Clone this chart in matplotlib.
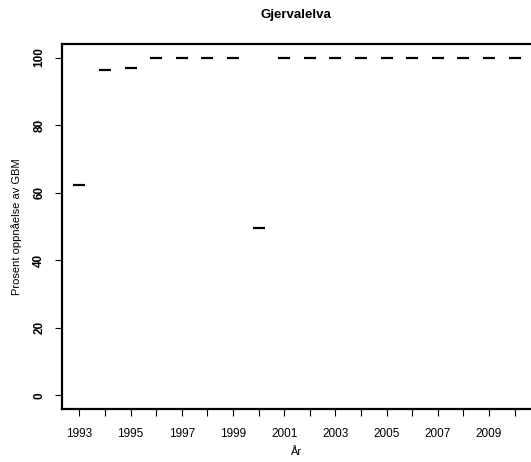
import matplotlib
matplotlib.use("Agg")
import matplotlib.pyplot as plt
from matplotlib.ticker import FixedLocator

plt.rcParams['font.family'] = ['Liberation Sans', 'DejaVu Sans']

years = list(range(1993, 2011))
values = [62.2, 96.4, 97.0, 100, 100, 100, 100, 49.6,
          100, 100, 100, 100, 100, 100, 100, 100, 100, 100]
label_years = list(range(1993, 2010, 2))
y_ticks = [0, 20, 40, 60, 80, 100]

# axes box in pixels of the 531x462 figure
left, right, top, bottom = 62, 532, 44, 409
W, H = 531, 462
aw, ah = right - left, bottom - top

fig = plt.figure(figsize=(W / 100, H / 100), dpi=100)
ax = fig.add_axes([left / W, 1 - bottom / H, aw / W, ah / H])

ax.plot(years, values, linestyle='none', marker='_', markersize=8,
        markeredgewidth=1.6, color='black')

ax.set_xlim(1992.32, 2010.68)
ax.set_ylim(-4, 104)

for side in ['left', 'top', 'bottom']:
    ax.spines[side].set_linewidth(1.6)
ax.spines['right'].set_visible(False)

ax.xaxis.set_major_locator(FixedLocator(years))
ax.set_xticklabels([str(y) if y in label_years else '' for y in years], fontsize=8.5)
ax.set_yticks(y_ticks)
ax.set_yticklabels([str(v) for v in y_ticks], fontsize=8.5, rotation=90,
                   va='center', fontweight='bold')

ax.tick_params(axis='x', length=5, width=0.8, pad=9)
ax.tick_params(axis='y', length=5, width=0.8, pad=7)

cx = (296 - left) / aw
ax.text(cx, (bottom - 15) / ah, 'Gjervalelva', transform=ax.transAxes,
        fontsize=9.5, fontweight='bold', ha='center', va='center')
ax.set_xlabel('År', fontsize=8)
ax.xaxis.set_label_coords(cx, (bottom - 452) / ah)
ax.xaxis.label.set_va('center')
ax.set_ylabel('Prosent oppnåelse av GBM', fontsize=8)
ax.yaxis.set_label_coords((17 - left) / aw, 0.5)
ax.yaxis.label.set_va('center')

fig.savefig('out.png', dpi=100)
